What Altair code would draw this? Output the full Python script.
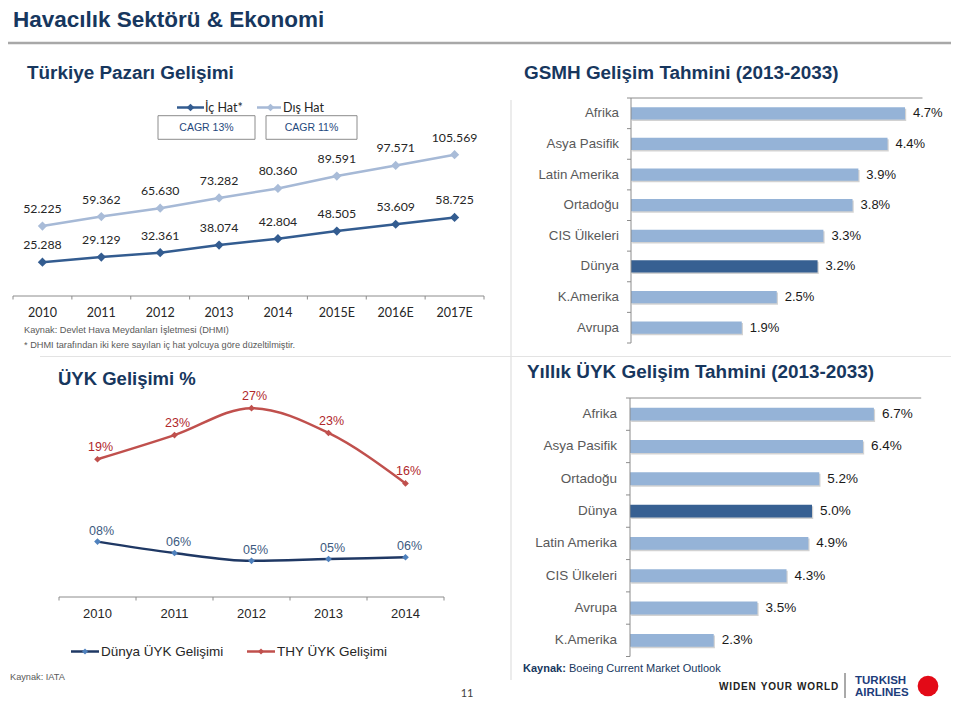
import altair as alt
import pandas as pd

# ---------------- data ----------------
years_tr = ["2010", "2011", "2012", "2013", "2014", "2015E", "2016E", "2017E"]
ic_hat = [25.288, 29.129, 32.361, 38.074, 42.804, 48.505, 53.609, 58.725]
dis_hat = [52.225, 59.362, 65.630, 73.282, 80.360, 89.591, 97.571, 105.569]

years_uyk = ["2010", "2011", "2012", "2013", "2014"]
dunya_uyk = [7.8, 6.2, 5.1, 5.35, 5.6]
dunya_uyk_lbl = ["08%", "06%", "05%", "05%", "06%"]
thy_uyk = [19.4, 22.8, 26.6, 23.1, 16.0]
thy_uyk_lbl = ["19%", "23%", "27%", "23%", "16%"]

gsmh_regions = ["Afrika", "Asya Pasifik", "Latin Amerika", "Ortadoğu", "CIS Ülkeleri", "Dünya", "K.Amerika", "Avrupa"]
gsmh_values = [4.7, 4.4, 3.9, 3.8, 3.3, 3.2, 2.5, 1.9]

ryk_regions = ["Afrika", "Asya Pasifik", "Ortadoğu", "Dünya", "Latin Amerika", "CIS Ülkeleri", "Avrupa", "K.Amerika"]
ryk_values = [6.7, 6.4, 5.2, 5.0, 4.9, 4.3, 3.5, 2.3]

# ---------------- styles ----------------
F = "Liberation Sans, Arial, sans-serif"
FC = "Lato, Carlito, Calibri, sans-serif"
NAVY = "#17375E"
AX = "#8C8C8C"
C_IC = "#335C90"
C_DIS = "#A6B9D6"
C_THY = "#C0504D"
C_DUN = "#1F3864"
C_DUN_M = "#4F81BD"
BAR_L = "#95B3D7"
BAR_D = "#376092"


def p(v):
    return v - 8


one = pd.DataFrame({"k": [0]})
layers = []


def text(s, x, y, size, color, weight="normal", font=F, align="left", baseline="middle"):
    return alt.Chart(pd.DataFrame({"s": [s]})).mark_text(
        align=align, baseline=baseline, fontSize=size, font=font, fontWeight=weight, color=color
    ).encode(x=alt.value(p(x)), y=alt.value(p(y)), text="s:N")


def hline(x1, x2, y, color, w=1.0):
    return alt.Chart(one).mark_rule(color=color, strokeWidth=w).encode(
        x=alt.value(p(x1)), x2=alt.value(p(x2)), y=alt.value(p(y)))


def vline(x, y1, y2, color, w=1.0):
    return alt.Chart(one).mark_rule(color=color, strokeWidth=w).encode(
        x=alt.value(p(x)), y=alt.value(p(y1)), y2=alt.value(p(y2)))


def marker(x, y, color, size, shape="diamond"):
    return alt.Chart(one).mark_point(shape=shape, filled=True, size=size, color=color, opacity=1).encode(
        x=alt.value(p(x)), y=alt.value(p(y)))


# ---------------- page furniture ----------------
layers.append(text("Havacılık Sektörü & Ekonomi", 13, 27, 22.5, NAVY, "bold", baseline="alphabetic"))
layers.append(hline(2, 959, 43, "#A8A8A8", 2.5))
layers.append(text("Türkiye Pazarı Gelişimi", 27, 73, 18.9, NAVY, "bold"))
layers.append(text("GSMH Gelişim Tahmini (2013-2033)", 524, 73, 18.9, NAVY, "bold"))
layers.append(vline(511, 100, 680, "#E6E6E6", 1.5))
layers.append(hline(40, 955, 356.5, "#E3E3E3", 1.2))

# ---------------- Türkiye Pazarı line chart ----------------
tr = pd.DataFrame({"year": years_tr, "ic": ic_hat, "dis": dis_hat})
sx_tr = alt.Scale(type="band", domain=years_tr, range=[p(13), p(484)], paddingInner=0, paddingOuter=0)
sy_tr = alt.Scale(type="linear", domain=[0, 120], range=[p(296), p(135.4)], nice=False, zero=False)

for col, lc, mc in [("dis", C_DIS, "#A9BCD8"), ("ic", C_IC, C_IC)]:
    base = alt.Chart(tr).encode(
        x=alt.X("year:N", scale=sx_tr, axis=None),
        y=alt.Y(f"{col}:Q", scale=sy_tr, axis=None),
    )
    layers.append(base.mark_line(color=lc, strokeWidth=2.5))
    layers.append(base.mark_point(shape="diamond", filled=True, size=85, color=mc, opacity=1))
    layers.append(base.mark_text(dy=-17, fontSize=12.3, font=FC, color="#262626").encode(
        text=alt.Text(f"{col}:Q", format=".3f")))

layers.append(hline(13, 484, 296, AX, 1))
layers.append(alt.Chart(tr).mark_rule(color=AX, strokeWidth=1).encode(
    x=alt.X("year:N", scale=sx_tr, axis=None, bandPosition=0), y=alt.value(p(296)), y2=alt.value(p(299.5))))
layers.append(alt.Chart(tr.tail(1)).mark_rule(color=AX, strokeWidth=1).encode(
    x=alt.X("year:N", scale=sx_tr, axis=None, bandPosition=1), y=alt.value(p(296)), y2=alt.value(p(299.5))))
layers.append(alt.Chart(tr).mark_text(font=FC, fontSize=12.5, color="#262626").encode(
    x=alt.X("year:N", scale=sx_tr, axis=None), y=alt.value(p(313)), text="year:N"))

# legend + CAGR boxes
layers.append(hline(177, 204, 107.5, C_IC, 2.5))
layers.append(marker(190.5, 107.5, C_IC, 60))
layers.append(text("İç Hat*", 205, 107.5, 12.5, "#262626", font=FC))
layers.append(hline(257, 281, 107.5, C_DIS, 2.5))
layers.append(marker(270.5, 107.5, "#A9BCD8", 60))
layers.append(text("Dış Hat", 283, 107.5, 12.5, "#262626", font=FC))
for bx1, bx2, lbl in [(158, 255, "CAGR 13%"), (266, 357, "CAGR 11%")]:
    layers.append(alt.Chart(one).mark_rect(fill="white", stroke="#8C8C8C", strokeWidth=1).encode(
        x=alt.value(p(bx1)), x2=alt.value(p(bx2)), y=alt.value(p(115.7)), y2=alt.value(p(139.3))))
    layers.append(text(lbl, (bx1 + bx2) / 2, 128, 10.5, "#1F497D", align="center"))

layers.append(text("Kaynak:  Devlet Hava Meydanları İşletmesi (DHMI)", 24, 330, 9.2, "#595959"))
layers.append(text("* DHMI tarafından iki kere sayılan iç hat yolcuya göre düzeltilmiştir.", 24, 345, 9.2, "#595959"))

# ---------------- ÜYK Gelişimi line chart ----------------
layers.append(text("ÜYK Gelişimi %", 58, 379, 18.5, NAVY, "bold"))
uyk = pd.DataFrame({"year": years_uyk, "dun": dunya_uyk, "thy": thy_uyk,
                    "dun_l": dunya_uyk_lbl, "thy_l": thy_uyk_lbl})
sx_u = alt.Scale(type="band", domain=years_uyk, range=[p(59), p(444)], paddingInner=0, paddingOuter=0)
sy_u = alt.Scale(type="linear", domain=[0, 30], range=[p(597), p(597 - 213)], nice=False, zero=False)

for col, lc, mc, tc, dx, dy in [("thy", C_THY, C_THY, "#B0282C", 3, -12), ("dun", C_DUN, C_DUN_M, "#3D5A80", 4, -11)]:
    base = alt.Chart(uyk).encode(
        x=alt.X("year:N", scale=sx_u, axis=None),
        y=alt.Y(f"{col}:Q", scale=sy_u, axis=None),
    )
    layers.append(base.mark_line(color=lc, strokeWidth=2.5, interpolate="monotone"))
    layers.append(base.mark_point(shape="diamond", filled=True, size=45, color=mc, opacity=1))
    layers.append(base.mark_text(dx=dx, dy=dy, fontSize=12.5, font=F, color=tc).encode(text=f"{col}_l:N"))

layers.append(hline(59, 444, 597, AX, 1))
layers.append(alt.Chart(uyk).mark_rule(color=AX, strokeWidth=1).encode(
    x=alt.X("year:N", scale=sx_u, axis=None, bandPosition=0), y=alt.value(p(597)), y2=alt.value(p(600.5))))
layers.append(alt.Chart(uyk.tail(1)).mark_rule(color=AX, strokeWidth=1).encode(
    x=alt.X("year:N", scale=sx_u, axis=None, bandPosition=1), y=alt.value(p(597)), y2=alt.value(p(600.5))))
layers.append(alt.Chart(uyk).mark_text(font=F, fontSize=13, color="#262626").encode(
    x=alt.X("year:N", scale=sx_u, axis=None), y=alt.value(p(614)), text="year:N"))

layers.append(hline(71, 99, 651.5, C_DUN, 2.5))
layers.append(marker(85, 651.5, C_DUN_M, 35))
layers.append(text("Dünya ÜYK Gelişimi", 101, 651.5, 13.5, "#262626"))
layers.append(hline(247, 275, 651.5, C_THY, 2.5))
layers.append(marker(261, 651.5, C_THY, 35))
layers.append(text("THY ÜYK Gelişimi", 277, 651.5, 13.5, "#262626"))
layers.append(text("Kaynak:  IATA", 10, 677, 9.2, "#595959"))
layers.append(text("11", 467, 697, 11, "#404040", font=FC, align="center", baseline="alphabetic"))


# ---------------- bar charts ----------------
def barchart(regions, values, xa, xe, dmax, yt, yb, lab_x, cat_size, val_size):
    df = pd.DataFrame({"region": regions, "value": values})
    sy = alt.Scale(type="band", domain=regions, range=[p(yt), p(yb)], paddingInner=0.6, paddingOuter=0.3)
    sy0 = alt.Scale(type="band", domain=regions, range=[p(yt), p(yb)], paddingInner=0, paddingOuter=0)
    sx = alt.Scale(type="linear", domain=[0, dmax], range=[p(xa), p(xe)], nice=False, zero=True)
    base = alt.Chart(df).encode(
        y=alt.Y("region:N", scale=sy, axis=None),
        x=alt.X("value:Q", scale=sx, axis=None),
    )
    out = [
        base.mark_bar(color="#7F7F7F", opacity=0.35, xOffset=1.2, yOffset=1.5),
        base.mark_bar().encode(color=alt.condition(alt.datum.region == "Dünya",
                                                   alt.value(BAR_D), alt.value(BAR_L))),
        base.transform_calculate(lbl="format(datum.value, '.1f') + '%'").mark_text(
            align="left", dx=8, fontSize=val_size, font=F, color="#1A1A1A").encode(text="lbl:N"),
        alt.Chart(df).mark_text(align="right", fontSize=cat_size, font=F, color="#595959").encode(
            y=alt.Y("region:N", scale=sy, axis=None), x=alt.value(p(lab_x)), text="region:N"),
        vline(xa, yt, yb, AX, 1),
        hline(xa, xe, yt, AX, 1),
        alt.Chart(df).mark_rule(color=AX, strokeWidth=1).encode(
            y=alt.Y("region:N", scale=sy0, axis=None, bandPosition=0),
            x=alt.value(p(xa - 4)), x2=alt.value(p(xa))),
        alt.Chart(df.tail(1)).mark_rule(color=AX, strokeWidth=1).encode(
            y=alt.Y("region:N", scale=sy0, axis=None, bandPosition=1),
            x=alt.value(p(xa - 4)), x2=alt.value(p(xa))),
    ]
    return out


layers += barchart(gsmh_regions, gsmh_values, 631, 922.5, 5, 98, 343, 619, 13.3, 13)

layers.append(text("Yıllık ÜYK Gelişim Tahmini (2013-2033)", 527, 372, 18.9, NAVY, "bold"))
layers += barchart(ryk_regions, ryk_values, 630, 921.2, 8, 398, 656.5, 617, 13.5, 13.5)

layers.append(text("Kaynak:", 523, 669, 11, NAVY, "bold"))
layers.append(text("Boeing Current Market Outlook", 569, 669, 11, NAVY))
sp = "\u200a"
wyw = (sp.join("WIDEN") + "\u2002" + sp.join("YOUR") + "\u2002" + sp.join("WORLD"))
layers.append(text(wyw, 719, 687, 10, "#222222", "bold"))
layers.append(vline(845, 673, 698, "#555555", 1))
layers.append(text("TURKISH", 855, 683.5, 11.5, "#1D3D7B", "bold", baseline="alphabetic"))
layers.append(text("AIRLINES", 855, 695.5, 11.5, "#1D3D7B", "bold", baseline="alphabetic"))
layers.append(marker(928, 686, "#E30A17", 430, "circle"))

chart = alt.layer(*layers).resolve_scale(
    x="independent", y="independent", color="independent"
).properties(
    width=943, height=690, padding=0, autosize="none"
).configure_view(stroke=None)

chart.save("out.html", embed_options={"renderer": "svg", "actions": False})
